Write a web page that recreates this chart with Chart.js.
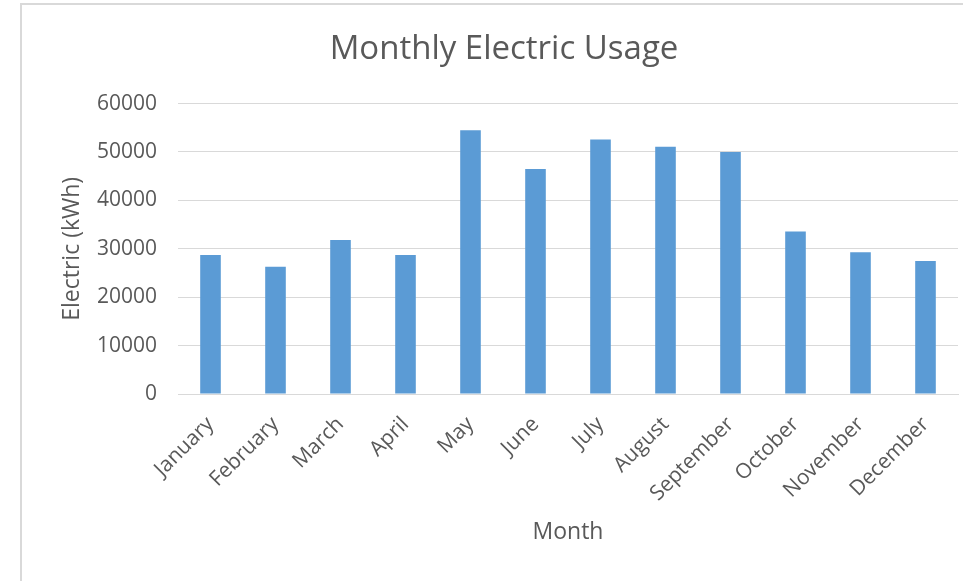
<!DOCTYPE html>
<html>
<head>
<meta charset="utf-8">
<script src="https://cdn.jsdelivr.net/npm/chart.js@4.4.0/dist/chart.umd.min.js"></script>
<style>
  html, body { margin: 0; padding: 0; background: #ffffff; overflow: hidden; width: 963px; height: 581px; }
  #frame { position: absolute; left: 20px; top: 3px; width: 968px; height: 600px; border: 2px solid #d9d9d9; box-sizing: border-box; background: #fff; }
  #wrap { position: absolute; left: 0; top: 0; width: 964px; height: 576px; }
</style>
</head>
<body>
<div id="frame"><div id="wrap"><canvas id="c"></canvas></div></div>
<script>
const months = ["January","February","March","April","May","June","July","August","September","October","November","December"];
const electricKWh = [28700, 26300, 31800, 28700, 54500, 46500, 52600, 51100, 50000, 33600, 29300, 27500];
const yTicks = [0, 10000, 20000, 30000, 40000, 50000, 60000];
const chartTitle = "Monthly Electric Usage";
const xTitle = "Month";
const yTitle = "Electric (kWh)";

const FONT = "'Open Sans', sans-serif";
const TXT = "#595959";
const GRID = "#d9d9d9";

new Chart(document.getElementById('c'), {
  type: 'bar',
  data: {
    labels: months,
    datasets: [{
      label: 'Electric',
      data: electricKWh,
      backgroundColor: '#5b9bd5',
      borderWidth: 0,
      barPercentage: 0.317,
      categoryPercentage: 1.0,
      yAxisID: 'y'
    }]
  },
  options: {
    responsive: true,
    maintainAspectRatio: false,
    animation: false,
    layout: { padding: { left: 0, right: 0, top: 0, bottom: 0 } },
    plugins: {
      legend: { display: false },
      tooltip: { enabled: false },
      title: {
        display: true,
        text: chartTitle,
        color: TXT,
        font: { family: FONT, size: 33, weight: 'normal', lineHeight: 1.2 },
        padding: { top: 25, bottom: 34 }
      }
    },
    scales: {
      x: {
        grid: { display: false, drawTicks: false },
        border: { display: true, color: GRID, width: 1 },
        ticks: {
          color: TXT,
          font: { family: FONT, size: 21 },
          minRotation: 45,
          maxRotation: 45,
          padding: 18,
          autoSkip: false
        },
        title: {
          display: true,
          text: xTitle,
          color: TXT,
          font: { family: FONT, size: 23 },
          padding: { top: 0, bottom: 35 }
        },
        afterFit: (s) => { s.height = 576 - 389; }
      },
      y: {
        position: 'left',
        min: 0,
        max: 60000,
        afterBuildTicks: (s) => { s.ticks = yTicks.map(v => ({ value: v })); },
        grid: { color: GRID, lineWidth: 1, drawTicks: false },
        border: { display: false },
        ticks: {
          color: TXT,
          font: { family: FONT, size: 21 },
          padding: 21,
          callback: (v) => String(v)
        },
        title: {
          display: true,
          text: yTitle,
          color: TXT,
          font: { family: FONT, size: 23 },
          padding: { top: 37, bottom: 0 }
        },
        afterFit: (s) => { s.width = 156; }
      },
      yRightSpace: {
        position: 'right',
        display: true,
        grid: { display: false, drawTicks: false },
        border: { display: false },
        ticks: { display: false },
        afterFit: (s) => { s.width = 28; }
      }
    }
  }
});
</script>
</body>
</html>
